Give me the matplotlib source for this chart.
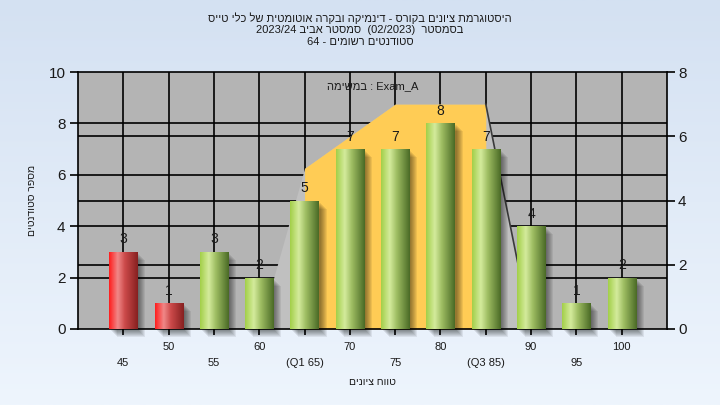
import re
import numpy as np
import matplotlib
matplotlib.use("Agg")
import matplotlib.pyplot as plt
import matplotlib.transforms as mtransforms
from matplotlib.patches import Rectangle
from matplotlib.colors import LinearSegmentedColormap

plt.rcParams['font.family'] = ['Liberation Sans', 'DejaVu Sans']

# ---------------- data ----------------
scores = [45, 50, 55, 60, 65, 70, 75, 80, 85, 90, 95, 100]
counts = [3, 1, 3, 2, 5, 7, 7, 8, 7, 4, 1, 2]
failing = [True, True, False, False, False, False, False, False, False, False, False, False]
tick_labels = ['45', '50', '55', '60', '(Q1 65)', '70', '75', '80', '(Q3 85)', '90', '95', '100']
q1, q3 = 65, 85
shape_scores = [60, 65, 75, 85, 90]      # right-axis units
shape_values = [0, 5, 7, 7, 0]
left_ticks = [0, 2, 4, 6, 8, 10]
right_ticks = [0, 2, 4, 6, 8]

title_lines = [
    "היסטוגרמת ציונים בקורס - דינמיקה ובקרה אוטומטית של כלי טייס",
    "בסמסטר  (02/2023)  סמסטר אביב 2023/24",
    "סטודנטים רשומים - 64",
]
xlabel = "טווח ציונים"
ylabel = "מספר סטודנטים"
note = "Exam_A : במשימה"


def rtl(s):
    r = s[::-1]
    r = re.sub(r'[A-Za-z0-9_/.]+', lambda m: m.group(0)[::-1], r)
    return r.translate(str.maketrans('()', ')('))


TXT = '#1a1a1a'
fig = plt.figure(figsize=(7.2, 4.05), dpi=100)

# background gradient
bg = fig.add_axes([0, 0, 1, 1], zorder=-10)
grad = np.linspace(0, 1, 256).reshape(-1, 1)
bgcmap = LinearSegmentedColormap.from_list('bg', ['#d4e1f2', '#eef5fd'])
bg.imshow(grad, cmap=bgcmap, aspect='auto', extent=[0, 1, 0, 1], origin='upper')
bg.set_axis_off()

rect = [78 / 720, 1 - 329 / 405, (667 - 78) / 720, (329 - 72) / 405]
ax = fig.add_axes(rect)
ax2 = ax.twinx()
ax.set_zorder(ax2.get_zorder() + 1)
ax.patch.set_visible(False)
ax2.patch.set_visible(True)
ax2.patch.set_facecolor('#b4b4b4')

ax.set_xlim(40, 105)
ax.set_ylim(0, 10)
ax2.set_ylim(0, 8)

# grid lines (behind shape) on back axis
for s in scores:
    ax2.axvline(s, color='black', lw=1.2, zorder=0.5)
for t in right_ticks[1:-1]:
    ax2.axhline(t, color='black', lw=1.2, zorder=0.5)
blend = mtransforms.blended_transform_factory(ax2.transAxes, ax.transData)
for t in left_ticks[1:-1]:
    ax2.plot([0, 1], [t, t], color='black', lw=1.2, transform=blend, zorder=0.5)

# quartile shape
ax2.fill_between(shape_scores, 0, shape_values, color='#c0c0c0', lw=0, zorder=1)
mid_x = [s for s in shape_scores if q1 <= s <= q3]
mid_y = [v for s, v in zip(shape_scores, shape_values) if q1 <= s <= q3]
ax2.fill_between(mid_x, 0, mid_y, color='#ffcc55', lw=0, zorder=1.2)
ax2.plot(shape_scores[-2:], shape_values[-2:], color='#3a3a3a', lw=1.2, zorder=1.3)

# bars
red_cmap = LinearSegmentedColormap.from_list(
    'red', [(0, '#ff1c1c'), (0.3, '#f08888'), (0.55, '#cc4a4a'), (1, '#862020')])
green_cmap = LinearSegmentedColormap.from_list(
    'green', [(0, '#a2cf48'), (0.3, '#d4eb9c'), (0.55, '#9ebd62'), (1, '#4a6a26')])
hgrad = np.linspace(0, 1, 128).reshape(1, -1)

bars = ax.bar(scores, counts, width=3.1, color='none', edgecolor='none', zorder=3)
for b, f in zip(bars, failing):
    x0, w, h = b.get_x(), b.get_width(), b.get_height()
    for k in range(1, 8):
        off = mtransforms.ScaledTranslation(k / 100 + 0.01, -k / 100 - 0.01, fig.dpi_scale_trans)
        ax.add_patch(Rectangle((x0, 0), w, h, color='black', alpha=0.07,
                               transform=ax.transData + off, zorder=2, lw=0, clip_on=False))
    im = ax.imshow(hgrad, cmap=red_cmap if f else green_cmap, aspect='auto',
                   extent=[x0, x0 + w, 0, h], zorder=3, interpolation='bilinear')
    im.set_clip_path(b)
ax.set_xlim(40, 105)
ax.set_ylim(0, 10)
ax.bar_label(bars, padding=4, fontsize=10, color=TXT)

# ticks
ax.set_yticks(left_ticks)
ax.tick_params(axis='y', direction='out', length=6, width=1.2, labelsize=11, labelcolor=TXT, pad=3)
ax2.set_yticks(right_ticks)
ax2.tick_params(axis='y', direction='out', length=6, width=1.2, labelsize=11, labelcolor=TXT, pad=2)
ax.set_xticks(scores)
ax.set_xticklabels([lab if i % 2 else '\n' + lab for i, lab in enumerate(tick_labels)],
                   fontsize=8, color=TXT, linespacing=1.75)
ax.tick_params(axis='x', direction='out', length=4, width=1.2, pad=5)
for sp in ax.spines.values():
    sp.set_color('black')
    sp.set_linewidth(1.2)
for sp in ax2.spines.values():
    sp.set_visible(False)

ax.set_xlabel(rtl(xlabel), fontsize=7.5, color=TXT, labelpad=7)
ax.set_ylabel(rtl(ylabel), fontsize=7.5, color=TXT, labelpad=8)

ax.text(0.5, 0.945, rtl(note), transform=ax.transAxes, ha='center', va='center',
        fontsize=8, color=TXT)

for i, line in enumerate(title_lines):
    fig.text(0.5, 1 - (18 + 12 * i) / 405, rtl(line), ha='center', va='center',
             fontsize=8, color=TXT)

fig.savefig('out.png', dpi=100)
